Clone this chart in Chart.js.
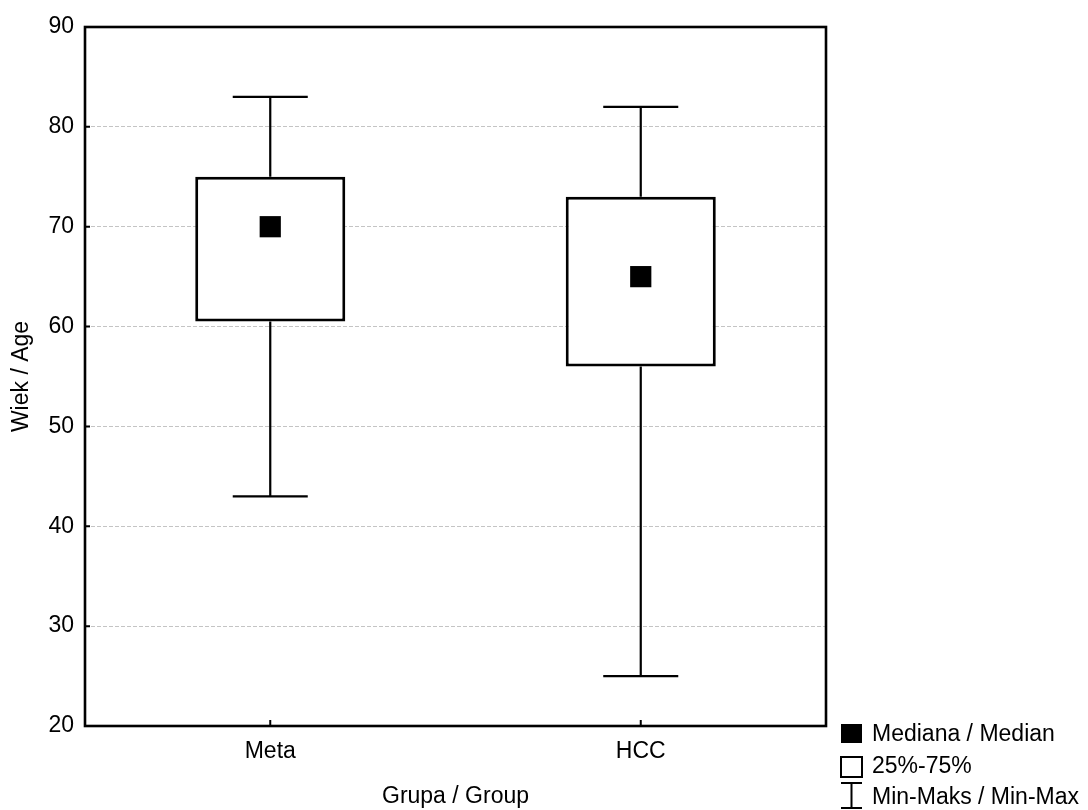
<!DOCTYPE html>
<html>
<head>
<meta charset="utf-8">
<script src="https://cdn.jsdelivr.net/npm/chart.js@4/dist/chart.umd.min.js"></script>
<style>
  html, body { margin: 0; padding: 0; background: #fff; }
  #wrap { width: 1088px; height: 810px; }
</style>
</head>
<body>
<div id="wrap"><canvas id="chart"></canvas></div>
<script>
// Wiek wg grupy: mediana, kwartyle i min-maks
const groups = ['Meta', 'HCC'];
const mins = [43, 25];
const q1s = [60.5, 56];
const medians = [70, 65];
const q3s = [75, 73];
const maxs = [83, 82];
const yTicks = [20, 30, 40, 50, 60, 70, 80, 90];

const legendItems = ['Mediana / Median', '25%-75%', 'Min-Maks / Min-Max'];

Chart.defaults.font.family = '"Liberation Sans", Arial, sans-serif';
Chart.defaults.color = '#000';

// ramka, krótkie kreski podziałki do środka, wąsy i legenda
const boxPlotExtras = {
  id: 'boxPlotExtras',
  beforeDatasetsDraw(chart) {
    const { ctx, scales: { x, y } } = chart;
    const boxes = chart.getDatasetMeta(0).data;
    ctx.save();
    ctx.strokeStyle = '#000';
    ctx.lineWidth = 2.2;
    groups.forEach((g, i) => {
      const cx = x.getPixelForValue(i);
      const half = boxes[i].width / 4;
      ctx.beginPath();
      ctx.moveTo(cx, y.getPixelForValue(q3s[i]));
      ctx.lineTo(cx, y.getPixelForValue(maxs[i]));
      ctx.moveTo(cx - half, y.getPixelForValue(maxs[i]));
      ctx.lineTo(cx + half, y.getPixelForValue(maxs[i]));
      ctx.moveTo(cx, y.getPixelForValue(q1s[i]));
      ctx.lineTo(cx, y.getPixelForValue(mins[i]));
      ctx.moveTo(cx - half, y.getPixelForValue(mins[i]));
      ctx.lineTo(cx + half, y.getPixelForValue(mins[i]));
      ctx.stroke();
    });
    ctx.restore();
  },
  afterDraw(chart) {
    const { ctx, chartArea: a, scales: { x, y } } = chart;
    ctx.save();
    ctx.strokeStyle = '#000';
    ctx.lineWidth = 2.6;
    ctx.strokeRect(a.left, a.top, a.right - a.left, a.bottom - a.top);

    ctx.lineWidth = 2;
    ctx.beginPath();
    yTicks.forEach((v) => {
      const py = y.getPixelForValue(v);
      ctx.moveTo(a.left, py);
      ctx.lineTo(a.left + 5, py);
    });
    groups.forEach((g, i) => {
      const px = x.getPixelForValue(i);
      ctx.moveTo(px, a.bottom);
      ctx.lineTo(px, a.bottom - 6);
    });
    ctx.stroke();

    // legenda pod obszarem wykresu, po prawej
    const lx = a.right + 15;
    const tx = a.right + 46;
    ctx.fillStyle = '#000';
    ctx.fillRect(lx, a.bottom - 2, 21, 19);
    ctx.strokeRect(lx, a.bottom + 31, 21, 20);
    ctx.beginPath();
    ctx.moveTo(lx, a.bottom + 57);
    ctx.lineTo(lx + 21, a.bottom + 57);
    ctx.moveTo(lx + 10.5, a.bottom + 57);
    ctx.lineTo(lx + 10.5, a.bottom + 82);
    ctx.moveTo(lx, a.bottom + 82);
    ctx.lineTo(lx + 21, a.bottom + 82);
    ctx.stroke();

    ctx.font = '23px "Liberation Sans", Arial, sans-serif';
    ctx.textBaseline = 'alphabetic';
    ctx.textAlign = 'left';
    legendItems.forEach((t, i) => {
      ctx.fillText(t, tx, a.bottom + 15 + i * 31.5);
    });
    ctx.restore();
  }
};

new Chart(document.getElementById('chart'), {
  type: 'bar',
  data: {
    labels: groups,
    datasets: [
      {
        label: '25%-75%',
        data: groups.map((g, i) => [q1s[i], q3s[i]]),
        backgroundColor: '#fff',
        borderColor: '#000',
        borderWidth: 3,
        borderSkipped: false,
        barPercentage: 0.405,
        categoryPercentage: 1,
        order: 1
      },
      {
        type: 'line',
        label: 'Mediana / Median',
        data: medians,
        showLine: false,
        pointStyle: 'rect',
        pointRadius: 15,
        pointBackgroundColor: '#000',
        pointBorderWidth: 0,
        order: 0
      }
    ]
  },
  options: {
    responsive: true,
    maintainAspectRatio: false,
    animation: false,
    events: [],
    layout: { padding: { left: 0, right: 262, top: 27, bottom: 0 } },
    plugins: { legend: { display: false }, tooltip: { enabled: false } },
    scales: {
      x: {
        offset: true,
        grid: { display: false, drawTicks: false },
        border: { display: false },
        ticks: { font: { size: 23 }, padding: 12 },
        title: {
          display: true,
          text: 'Grupa / Group',
          font: { size: 23 },
          padding: { top: 0, bottom: 0 }
        },
        afterFit: (s) => { s.height = 84; }
      },
      y: {
        min: 20,
        max: 90,
        grid: {
          drawTicks: false,
          color: (c) => (c.tick && (c.tick.value === 20 || c.tick.value === 90)) ? 'rgba(0,0,0,0)' : '#c4c4c4',
          lineWidth: 1
        },
        border: { display: false, dash: [4, 2] },
        ticks: { stepSize: 10, font: { size: 23 }, padding: 11 },
        title: {
          display: true,
          text: 'Wiek / Age',
          font: { size: 23 },
          padding: { top: 8, bottom: 0 }
        },
        afterFit: (s) => { s.width = 85; }
      }
    }
  },
  plugins: [boxPlotExtras]
});
</script>
</body>
</html>
